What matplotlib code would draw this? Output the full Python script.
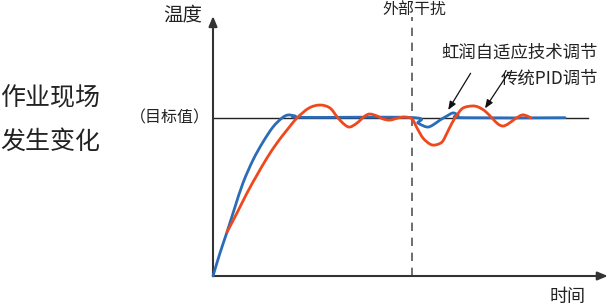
import matplotlib
matplotlib.use('Agg')
import matplotlib.pyplot as plt
from matplotlib.path import Path
from matplotlib.patches import PathPatch

plt.rcParams['font.family'] = ['Noto Sans CJK SC', 'DejaVu Sans']

# 虹润自适应技术调节 (blue)
blue_t = [0, 0.175, 0.35, 0.55, 0.75, 1.0, 1.25, 1.5, 1.725, 1.875, 2.05, 2.25,
          4.975, 5.125, 5.35, 5.5, 5.675, 5.85, 6.0, 6.125, 6.25, 8.8]
blue_T = [0, 14.6, 27.8, 43.7, 58.9, 73.4, 84.8, 94.3, 100, 101.9, 101.3, 100.4,
          100.3, 96.8, 94.3, 95.6, 98.7, 101.3, 103.2, 101.9, 100.2, 100.2]

# 传统PID调节 (red)
red_t = [0.35, 0.6, 0.85, 1.1, 1.35, 1.6, 1.85, 2.1, 2.4, 2.675, 2.925, 3.125,
         3.3, 3.425, 3.6, 3.8, 3.925, 4.1, 4.25, 4.425, 4.625, 4.8, 4.975,
         5.1, 5.25, 5.425, 5.55, 5.725, 5.85, 5.975, 6.1, 6.25, 6.475, 6.625,
         6.8, 6.975, 7.125, 7.25, 7.375, 7.55, 7.725, 7.85, 7.95]
red_T = [27.8, 39.9, 52.5, 63.9, 74.7, 84.2, 92.4, 100, 106.3, 108.2, 106.3, 100,
         95.6, 94.3, 96.8, 101.3, 102.5, 101.3, 99.4, 98.7, 100, 100.6, 99.4,
         93.7, 87.3, 83.5, 82.9, 84.8, 90.5, 96.8, 101.9, 106.3, 107.6, 107.0,
         104.4, 100, 96.2, 94.9, 96.2, 99.4, 101.9, 101.3, 100]

target = 100
target_end = 9.375
disturb_t = 4.975


def smooth_path(xs, ys):
    # cubic bezier segments through the read points (catmull-rom handles)
    pts = list(zip(xs, ys))
    verts = [pts[0]]
    codes = [Path.MOVETO]
    n = len(pts)
    for i in range(n - 1):
        p0 = pts[i - 1] if i > 0 else pts[i]
        p1 = pts[i]
        p2 = pts[i + 1]
        p3 = pts[i + 2] if i + 2 < n else pts[i + 1]
        c1 = (p1[0] + (p2[0] - p0[0]) / 6, p1[1] + (p2[1] - p0[1]) / 6)
        c2 = (p2[0] - (p3[0] - p1[0]) / 6, p2[1] - (p3[1] - p1[1]) / 6)
        verts += [c1, c2, p2]
        codes += [Path.CURVE4] * 3
    return Path(verts, codes)


fig = plt.figure(figsize=(6.08, 3.08), dpi=100)
ax = fig.add_axes([0, 0, 1, 1])
ax.set_xlim(-5.325, 9.875)
ax.set_ylim(-20.25, 174.68)
ax.axis('off')

axis_c = '#333333'
txt_c = '#222222'

# axes with arrows
ax.annotate('', xy=(9.87, 0), xytext=(0, 0),
            arrowprops=dict(arrowstyle='-|>,head_length=0.6,head_width=0.25',
                            color=axis_c, lw=1.5, shrinkA=0, shrinkB=0))
ax.annotate('', xy=(0, 164.5), xytext=(0, 0),
            arrowprops=dict(arrowstyle='-|>,head_length=0.6,head_width=0.25',
                            color=axis_c, lw=1.5, shrinkA=0, shrinkB=0))

# target line and disturbance marker
ax.plot([0, target_end], [target, target], color='#222222', lw=1.0, zorder=2)
ax.plot([disturb_t, disturb_t], [0, 164], color='#555555', lw=1.2,
        dashes=(5, 4), zorder=1)

ax.add_patch(PathPatch(smooth_path(blue_t, blue_T), facecolor='none',
                       edgecolor='#2B6CB8', lw=2.0, zorder=3,
                       capstyle='round', joinstyle='round'))
ax.add_patch(PathPatch(smooth_path(red_t, red_T), facecolor='none',
                       edgecolor='#EF481C', lw=2.0, zorder=4,
                       capstyle='round', joinstyle='round'))

# labels
ax.text(-0.75, 165.2, '温度', fontsize=14, color=txt_c, ha='center', va='center')
ax.text(5.03, 168.4, '外部干扰', fontsize=11.5, color=txt_c, ha='center', va='center')
ax.text(8.875, -13.3, '时间', fontsize=13, color=txt_c, ha='center', va='center')
ax.text(-0.075, 100, '（目标值）', fontsize=11.5, color=txt_c, ha='right', va='center')
ax.text(-5.32, 112.7, '作业现场', fontsize=18, color=txt_c, ha='left', va='center')
ax.text(-5.32, 84.8, '发生变化', fontsize=18, color=txt_c, ha='left', va='center')

ax.text(9.62, 141.5, '虹润自适应技术调节', fontsize=12.5, color=txt_c, ha='right', va='center')
ax.text(9.62, 125.0, '传统PID调节', fontsize=12.5, color=txt_c, ha='right', va='center')

ax.annotate('', xy=(5.88, 105.1), xytext=(6.44, 128.3),
            arrowprops=dict(arrowstyle='-|>,head_length=0.5,head_width=0.2',
                            color='#111111', lw=0.9, shrinkA=0, shrinkB=0))
ax.annotate('', xy=(6.8, 106.1), xytext=(7.38, 128.3),
            arrowprops=dict(arrowstyle='-|>,head_length=0.5,head_width=0.2',
                            color='#111111', lw=0.9, shrinkA=0, shrinkB=0))

fig.savefig('out.png', dpi=100)
